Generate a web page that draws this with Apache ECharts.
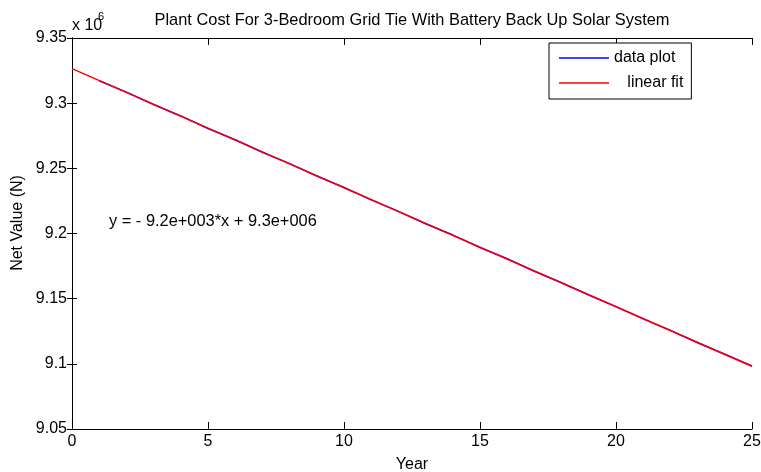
<!DOCTYPE html>
<html>
<head>
<meta charset="utf-8">
<script src="https://cdn.jsdelivr.net/npm/echarts@6/dist/echarts.min.js"></script>
<style>
  html, body { margin: 0; padding: 0; background: #fff; }
  #chart { width: 761px; height: 472px; }
</style>
</head>
<body>
<div id="chart"></div>
<script>
// Year axis
const xMin = 0, xMax = 25, xStep = 5;
// Net value axis (naira), labelled in units of 10^6
const yMin = 9050000, yMax = 9350000, yStep = 50000;

// Yearly net value of the plant
const years = [1, 2, 3, 4, 5, 6, 7, 8, 9, 10, 11, 12, 13, 14, 15, 16, 17, 18, 19, 20, 21, 22, 23, 24, 25];
const netValue = [
  9317200, 9308500, 9299000, 9290200, 9280600, 9271900, 9262300, 9253600, 9244100, 9235300,
  9225800, 9217000, 9207500, 9198800, 9189300, 9180600, 9171000, 9162200, 9152800, 9143900,
  9134500, 9125700, 9116200, 9107400, 9098300
];

// Least-squares line, evaluated at its two ends
const fitYears = [0, 25];
const fitValues = [9326500, 9098100];

const titleText = 'Plant Cost For 3-Bedroom Grid Tie With Battery Back Up Solar System';
const equationText = 'y = - 9.2e+003*x + 9.3e+006';
const yAxisTitle = 'Net Value (N)';
const xAxisTitle = 'Year';
const seriesNames = ['data plot', 'linear fit'];

const FONT = '"Liberation Sans", Arial, sans-serif';

const chart = echarts.init(document.getElementById('chart'), null, { renderer: 'canvas' });

const baseAxis = {
  axisLine: { show: true, lineStyle: { color: '#000', width: 1 } },
  splitLine: { show: false }
};

// thin horizontal stroke used as the legend key
const legendLine = 'path://M0,0H50V1.5H0Z';

const option = {
  backgroundColor: '#fff',
  animation: false,
  textStyle: { fontFamily: FONT },
  title: {
    text: titleText,
    left: 412,
    textAlign: 'center',
    top: 12,
    padding: 0,
    textStyle: { fontFamily: FONT, fontSize: 16.4, fontWeight: 'normal', color: '#000' }
  },
  grid: { left: 72, top: 38, right: 9, bottom: 43, containLabel: false, outerBoundsMode: 'none' },
  legend: {
    orient: 'vertical',
    left: 549,
    top: 43,
    padding: [7, 8, 8, 10],
    itemWidth: 50,
    itemHeight: 14,
    itemGap: 9,
    backgroundColor: '#fff',
    borderColor: '#000',
    borderWidth: 1,
    borderRadius: 0,
    data: [
      { name: seriesNames[0], icon: legendLine },
      { name: seriesNames[1], icon: legendLine }
    ],
    formatter: name => (name === 'linear fit' ? '   linear fit' : name),
    textStyle: { fontFamily: FONT, fontSize: 16, color: '#000' }
  },
  xAxis: [
    Object.assign({}, baseAxis, {
      type: 'value', position: 'bottom', min: xMin, max: xMax, interval: xStep,
      axisTick: { show: true, inside: true, length: 7, lineStyle: { color: '#000' } },
      axisLabel: { color: '#000', fontSize: 16, fontFamily: FONT, margin: 5 },
      name: xAxisTitle, nameLocation: 'middle', nameGap: 28,
      nameTextStyle: { color: '#000', fontSize: 16, fontFamily: FONT }
    }),
    Object.assign({}, baseAxis, {
      type: 'value', position: 'top', min: xMin, max: xMax, interval: xStep,
      axisTick: { show: true, inside: true, length: 7, lineStyle: { color: '#000' } },
      axisLabel: { show: false }
    })
  ],
  yAxis: [
    Object.assign({}, baseAxis, {
      type: 'value', position: 'left', min: yMin, max: yMax, interval: yStep,
      axisTick: { show: true, inside: true, length: 5, lineStyle: { color: '#000' } },
      axisLabel: {
        color: '#000', fontSize: 16, fontFamily: FONT, margin: 5,
        formatter: v => String(parseFloat((v / 1e6).toFixed(2)))
      }
    }),
    Object.assign({}, baseAxis, {
      type: 'value', position: 'right', min: yMin, max: yMax, interval: yStep,
      axisTick: { show: true, inside: true, length: 5, lineStyle: { color: '#000' } },
      axisLabel: { show: false }
    })
  ],
  series: [
    {
      name: seriesNames[0],
      type: 'line',
      xAxisIndex: 0, yAxisIndex: 0,
      data: years.map((x, i) => [x, netValue[i]]),
      symbol: 'none',
      lineStyle: { color: '#0000ff', width: 1.5 },
      itemStyle: { color: '#0000ff' },
      z: 2
    },
    {
      name: seriesNames[1],
      type: 'line',
      xAxisIndex: 0, yAxisIndex: 0,
      data: fitYears.map((x, i) => [x, fitValues[i]]),
      symbol: 'none',
      lineStyle: { color: '#ff0000', width: 1.5 },
      itemStyle: { color: '#ff0000' },
      z: 3
    }
  ],
  graphic: [
    {
      type: 'text', x: 18, y: 223, rotation: Math.PI / 2,
      style: { text: yAxisTitle, font: '16px ' + FONT, fill: '#000', align: 'center', verticalAlign: 'middle' }
    },
    {
      type: 'text', left: 72, top: 18,
      style: { text: 'x 10', font: '16px ' + FONT, fill: '#000' }
    },
    {
      type: 'text', left: 98, top: 11,
      style: { text: '6', font: '11px ' + FONT, fill: '#000' }
    },
    {
      type: 'text', left: 109, top: 213,
      style: { text: equationText, font: '16.4px ' + FONT, fill: '#000' }
    }
  ]
};

chart.setOption(option);
</script>
</body>
</html>
